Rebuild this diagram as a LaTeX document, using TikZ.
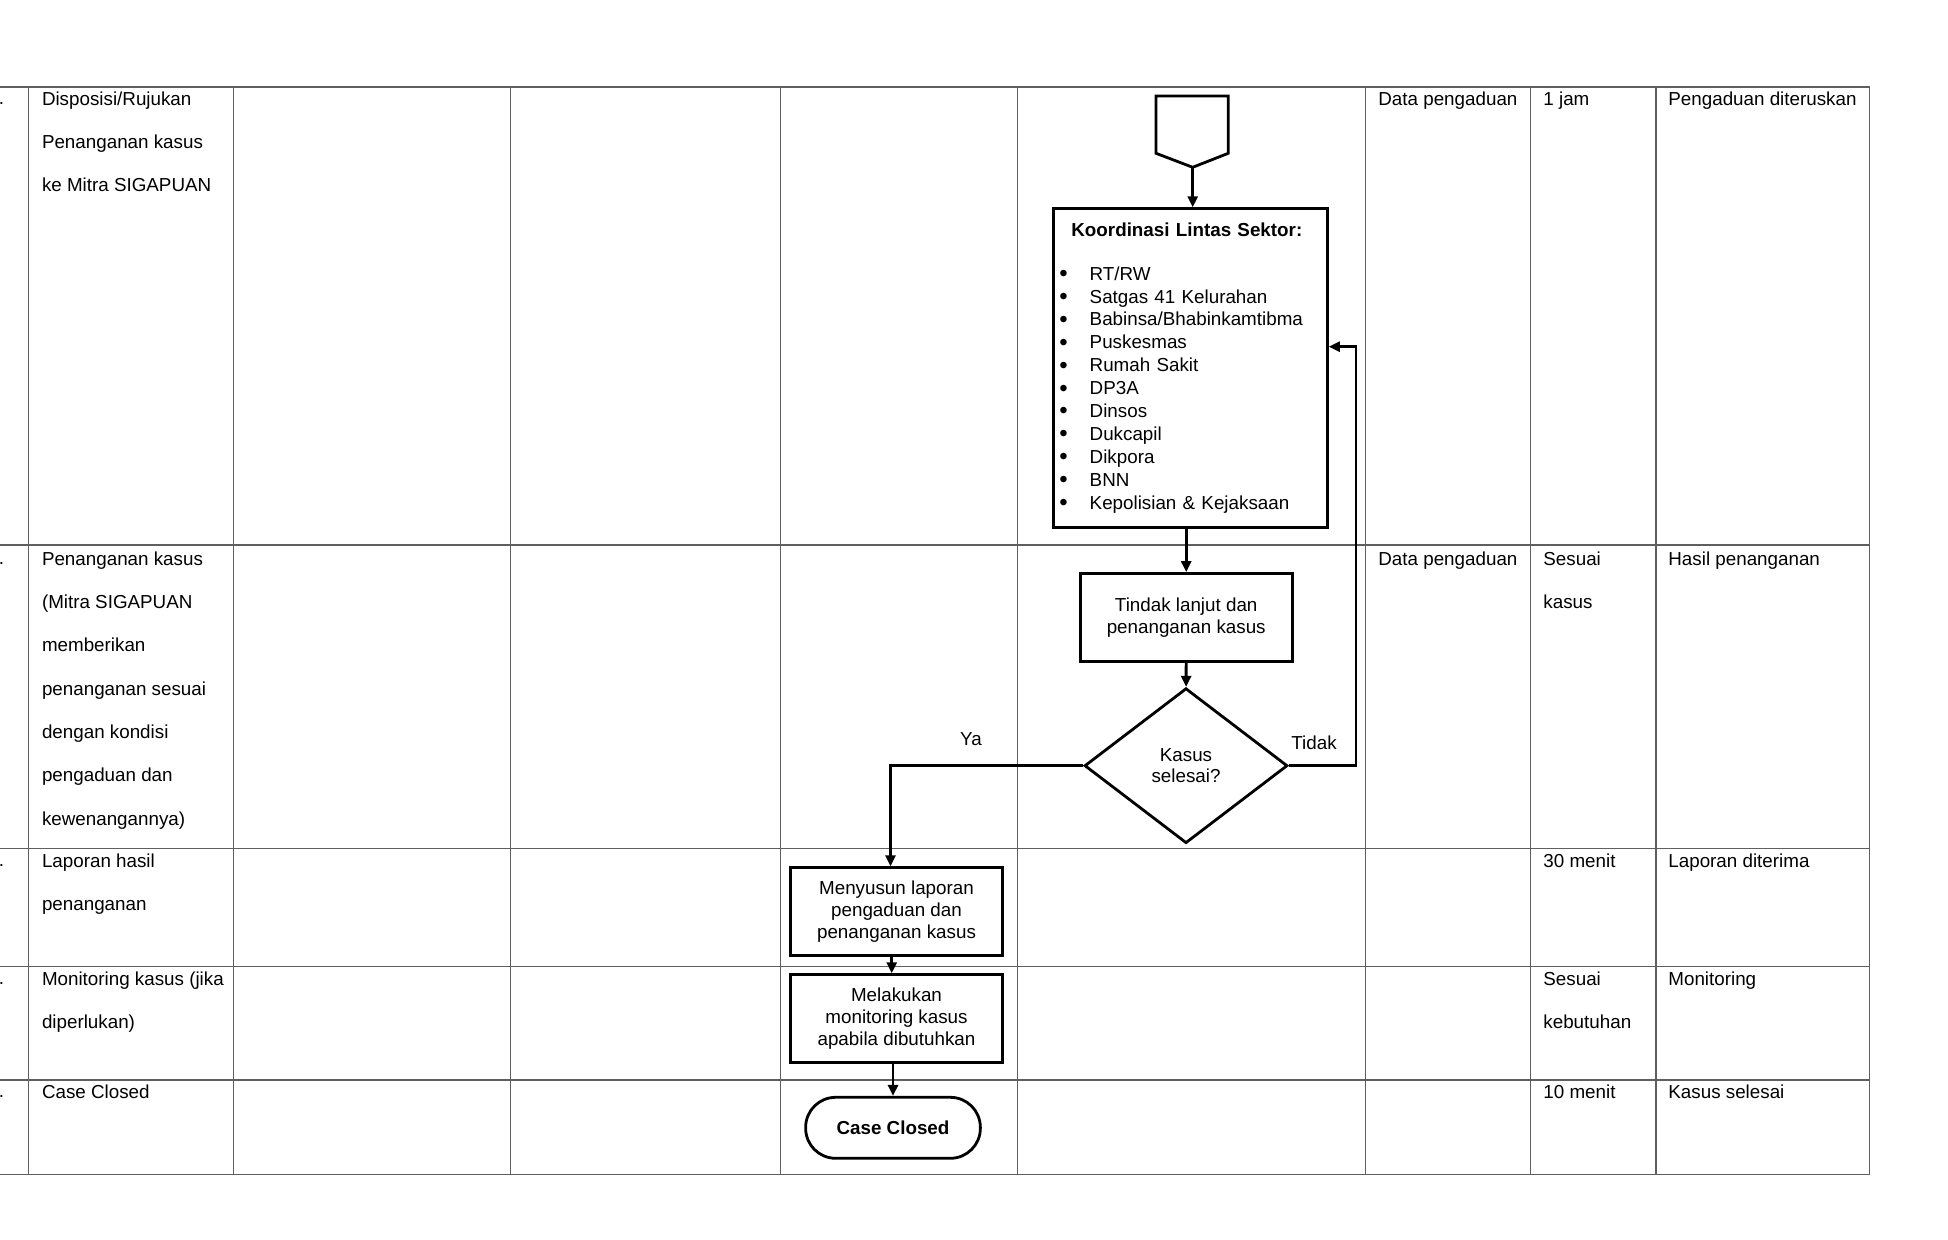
\documentclass[tikz,border=0pt]{standalone}
\usepackage{fontspec}
\setmainfont{Liberation Sans}
\usetikzlibrary{positioning,shapes.geometric,arrows.meta}

\definecolor{gridgray}{RGB}{95,95,95}
\newcommand{\cellfont}{\fontsize{9.4}{21.65}\selectfont}
\newcommand{\boxfont}{\fontsize{9.4}{10.8}\selectfont}
\newcommand{\itembullet}{\makebox[15.15pt][l]{\raisebox{-0.7pt}{\fontsize{12}{0}\selectfont\textbullet}}}

\begin{document}
\begin{tikzpicture}[x=0.5pt,y=-0.5pt,
    every node/.style={font=\boxfont,inner sep=0pt},
    cell/.style={anchor=north west,align=left,font=\cellfont},
    procbox/.style={draw,line width=1.4pt,minimum width=106pt,minimum height=44pt,align=center},
    decision/.style={diamond,draw,line width=1.4pt,aspect=1.3,minimum width=101.5pt,minimum height=77.5pt,align=center},
    terminal/.style={draw,line width=1.4pt,rounded corners=15pt,minimum width=87.35pt,minimum height=30.5pt},
    flow/.style={line width=1.4pt,-{Triangle[length=5.5pt,width=5pt]}},
    tabline/.style={draw=gridgray,line width=0.6pt}]

    \useasboundingbox (0,0) rectangle (1948,1240);

    %==================== Table ====================
    \begin{scope}
      % Row and column rules
      \foreach \y in {87,545,848.5,966.5,1080,1174.5} {
        \draw[tabline] (0,\y) -- (1869.7,\y);
      }
      \foreach \x in {28.6,233.6,510.6,780.2,1017.5,1365.3,1530.5,1656,1869.7} {
        \draw[tabline] (\x,87) -- (\x,1174.5);
      }

      % Top of the first text line in each row
      \def\ya{91.3}
      \def\yb{551.3}
      \def\yc{853}
      \def\yd{971}
      \def\ye{1084}

      % Numbering column (cut off, only the dots are left)
      \foreach \i/\y in {1/105,2/565,3/866.7,4/984.7,5/1097.7} {
        \node[font=\cellfont,anchor=base west] (no\i) at (-1.5,\y) {.};
      }

      % Row 1
      \node[cell] (act1) at (41.6,\ya) {Disposisi/Rujukan\\Penanganan kasus\\ke Mitra SIGAPUAN};
      \node[cell] (in1)  at (1378,\ya) {Data pengaduan};
      \node[cell] (wkt1) at (1543,\ya) {1 jam};
      \node[cell] (out1) at (1668,\ya) {Pengaduan diteruskan};

      % Row 2
      \node[cell] (act2) at (41.6,\yb) {Penanganan kasus\\(Mitra SIGAPUAN\\memberikan\\penanganan sesuai\\dengan kondisi\\pengaduan dan\\kewenangannya)};
      \node[cell] (in2)  at (1378,\yb) {Data pengaduan};
      \node[cell] (wkt2) at (1543,\yb) {Sesuai\\kasus};
      \node[cell] (out2) at (1668,\yb) {Hasil penanganan};

      % Row 3
      \node[cell] (act3) at (41.6,\yc) {Laporan hasil\\penanganan};
      \node[cell] (wkt3) at (1543,\yc) {30 menit};
      \node[cell] (out3) at (1668,\yc) {Laporan diterima};

      % Row 4
      \node[cell] (act4) at (41.6,\yd) {Monitoring kasus (jika\\diperlukan)};
      \node[cell] (wkt4) at (1543,\yd) {Sesuai\\kebutuhan};
      \node[cell] (out4) at (1668,\yd) {Monitoring};

      % Row 5
      \node[cell] (act5) at (41.6,\ye) {Case Closed};
      \node[cell] (wkt5) at (1543,\ye) {10 menit};
      \node[cell] (out5) at (1668,\ye) {Kasus selesai};
    \end{scope}

    %==================== Flowchart ====================
    \begin{scope}
      % Off-page connector
      \draw[line width=1.4pt] (1156,96) -- (1228.3,96) -- (1228.3,153.3)
        -- (1192.7,167.3) -- (1156,153.3) -- cycle;
      \coordinate (offtip) at (1192.7,167.3);

      % Cross-sector coordination box
      \node[draw,line width=1.4pt,anchor=north west,inner xsep=3.15pt,inner ysep=0pt,
            text width=130.85pt,minimum height=159.35pt,align=left,
            font=\fontsize{9.4}{11.45}\selectfont] (koord) at (1051.7,207.3)
        {\hspace*{6pt}\textbf{Koordinasi Lintas Sektor:}\\[10.25pt]
         \itembullet RT/RW\\
         \itembullet Satgas 41 Kelurahan\\
         \itembullet Babinsa/Bhabinkamtibma\\
         \itembullet Puskesmas\\
         \itembullet Rumah Sakit\\
         \itembullet DP3A\\
         \itembullet Dinsos\\
         \itembullet Dukcapil\\
         \itembullet Dikpora\\
         \itembullet BNN\\
         \itembullet Kepolisian \& Kejaksaan};

      \node[procbox] (tindak) at (1186.2,617.5) {Tindak lanjut dan\\penanganan kasus};
      \node[decision] (cek) at (1186,765.7) {Kasus\\selesai?};
      \node[procbox] (lapor) at (896.5,911.7) {Menyusun laporan\\pengaduan dan\\penanganan kasus};
      \node[procbox] (monitor) at (896.5,1018.7) {Melakukan\\monitoring kasus\\apabila dibutuhkan};
      \node[terminal] (tutup) at (893,1127.8) {\textbf{Case Closed}};

      % Branch labels
      \node (ya) at (971,739) {Ya};
      \node (tidak) at (1314,742.3) {Tidak};

      % Connectors
      \coordinate (balik) at (1356,346.7);
      \draw[flow] (offtip) -- (offtip |- koord.north);
      \draw[flow] (koord.south -| tindak.north) -- (tindak.north);
      \draw[flow] (tindak) -- (cek);
      \draw[flow] (cek.west) -| ([xshift=-3pt]lapor.north);
      \draw[flow] (cek.east) -| (balik) -- (balik -| koord.east);
      \draw[flow] ([xshift=-2.4pt]lapor.south) -- ([xshift=-2.4pt]monitor.north);
      \draw[flow] (monitor.south -| tutup.north) -- (tutup.north);
    \end{scope}

\end{tikzpicture}
\end{document}
